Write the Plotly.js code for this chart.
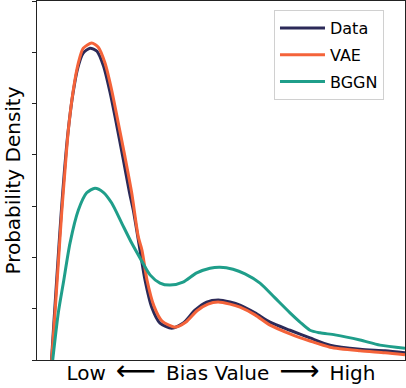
<!DOCTYPE html>
<html>
<head>
<meta charset="utf-8">
<script src="https://cdn.plot.ly/plotly-3.0.1.min.js"></script>
<style>
  html, body { margin: 0; padding: 0; background: #fff; }
  #chart { width: 406px; height: 388px; }
</style>
</head>
<body>
<div id="chart"></div>
<script>
// bias value on a 0..100 scale, density
const dataX = [3.94, 4.76, 5.65, 6.58, 7.47, 8.42, 9.78, 11.14, 12.50, 14.40, 16.30, 18.07, 19.84, 21.60, 23.37, 25.14, 26.17, 27.99, 29.35, 31.17, 33.42, 36.60, 39.76, 42.93, 46.11, 49.27, 52.45, 55.16, 59.24, 63.32, 68.75, 74.18, 79.62, 87.77, 94.57, 100];
const dataY = [0, 0.92, 1.89, 2.87, 3.70, 4.44, 5.20, 5.71, 5.98, 6.08, 6.02, 5.73, 5.22, 4.60, 3.94, 3.26, 2.92, 2.14, 1.56, 1.03, 0.72, 0.62, 0.72, 0.97, 1.13, 1.17, 1.13, 1.07, 0.92, 0.74, 0.58, 0.43, 0.29, 0.21, 0.18, 0.14];

const vaeX = [3.99, 4.89, 5.79, 6.71, 7.61, 8.51, 9.86, 11.22, 12.58, 14.86, 16.66, 18.48, 20.30, 22.09, 23.91, 25.73, 27.53, 28.53, 29.89, 31.79, 33.97, 37.50, 40.49, 43.48, 46.47, 49.18, 52.45, 55.16, 59.24, 63.32, 68.75, 74.18, 79.62, 87.77, 94.57, 100];
const vaeY = [0, 0.92, 1.89, 2.87, 3.70, 4.48, 5.26, 5.79, 6.08, 6.18, 6.10, 5.79, 5.26, 4.62, 3.96, 3.26, 2.40, 2.14, 1.56, 1.05, 0.76, 0.64, 0.74, 0.96, 1.09, 1.13, 1.09, 1.03, 0.88, 0.68, 0.51, 0.37, 0.25, 0.18, 0.14, 0.10];

const bggnX = [4.27, 5.79, 7.15, 8.97, 11.22, 13.51, 15.76, 18.02, 20.30, 23.02, 25.73, 27.99, 30.71, 33.42, 36.14, 39.67, 43.40, 47.01, 49.73, 53.26, 56.52, 60.60, 64.67, 68.75, 71.47, 74.18, 76.90, 80.98, 87.77, 93.21, 100];
const bggnY = [0, 0.92, 1.50, 2.28, 2.92, 3.26, 3.35, 3.27, 3.06, 2.67, 2.28, 1.99, 1.66, 1.50, 1.46, 1.52, 1.70, 1.79, 1.81, 1.77, 1.68, 1.50, 1.21, 0.92, 0.74, 0.58, 0.53, 0.49, 0.39, 0.29, 0.23];

const seriesNames = ['Data', 'VAE', 'BGGN'];
const colors = ['#2c2a58', '#f4633a', '#1f9e8a'];

const xs = [dataX, vaeX, bggnX];
const ys = [dataY, vaeY, bggnY];

const traces = seriesNames.map((name, i) => ({
  x: xs[i],
  y: ys[i],
  type: 'scatter',
  mode: 'lines',
  name: name,
  legendgroup: name,
  line: { color: colors[i], width: 3, shape: 'spline', smoothing: 0.7 }
}));

const font = { family: 'DejaVu Sans, sans-serif', color: '#000' };

// long arrows drawn a bit larger, as in the original label
const arrowL = '<span style="font-size:28px">\u27F5</span>';
const arrowR = '<span style="font-size:28px">\u27F6</span>';

const layout = {
  width: 406,
  height: 388,
  margin: { l: 37, r: 1, t: 1, b: 28 },
  paper_bgcolor: '#fff',
  plot_bgcolor: '#fff',
  font: font,
  showlegend: true,
  xaxis: {
    range: [0, 100],
    showgrid: false,
    zeroline: false,
    showticklabels: false,
    ticks: '',
    showline: true,
    mirror: true,
    linecolor: '#222',
    linewidth: 1,
    title: { text: 'Low\u2002' + arrowL + '\u2002Bias Value\u2002' + arrowR + '\u2002High', font: { size: 20 }, standoff: 5 }
  },
  yaxis: {
    range: [0, 7],
    dtick: 1,
    showgrid: false,
    zeroline: false,
    showticklabels: false,
    ticks: 'outside',
    ticklen: 4,
    tickcolor: '#222',
    showline: true,
    mirror: true,
    linecolor: '#222',
    linewidth: 1,
    title: { text: 'Probability Density', font: { size: 20 }, standoff: 6 }
  },
  legend: {
    x: 0.644,
    y: 0.975,
    xanchor: 'left',
    yanchor: 'top',
    bgcolor: '#fff',
    bordercolor: '#d0d0d0',
    borderwidth: 1,
    font: { size: 16 },
    itemwidth: 45,
    traceorder: 'grouped',
    tracegroupgap: 3
  }
};

Plotly.newPlot('chart', traces, layout, { displayModeBar: false, staticPlot: true });
</script>
</body>
</html>
